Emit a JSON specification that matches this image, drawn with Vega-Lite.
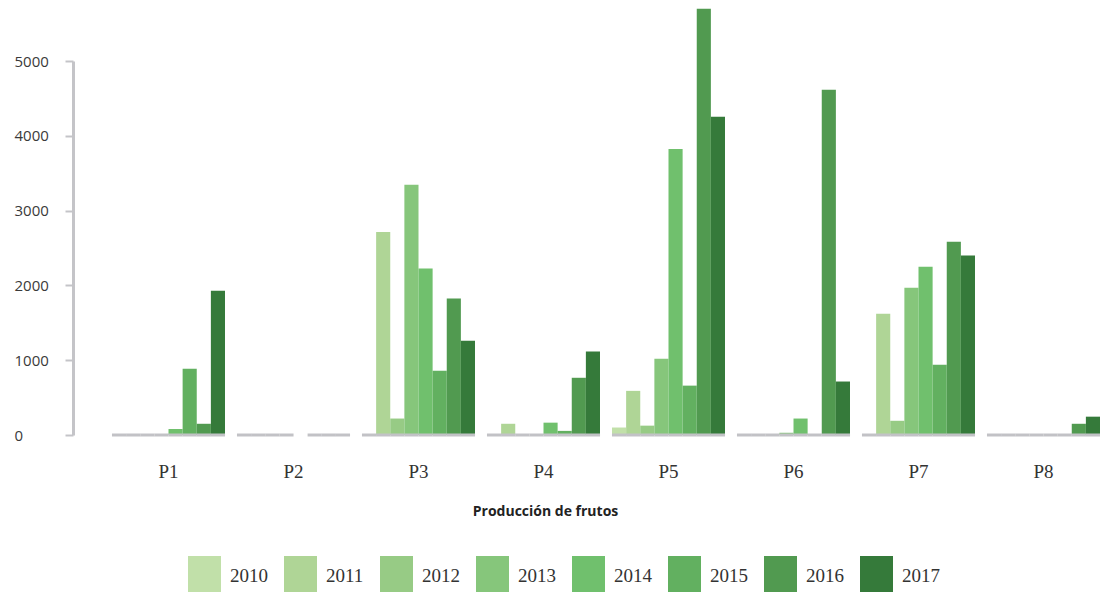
{
  "$schema": "https://vega.github.io/schema/vega-lite/v6.json",
  "width": 1027,
  "height": 374,
  "autosize": {"type": "none"},
  "padding": {"left": 73, "top": 61, "right": 0, "bottom": 157},
  "background": "#ffffff",
  "config": {"view": {"stroke": null}},
  "data": {
    "values": [
      {"parcela": "P1", "anio": "2010", "v": 0},
      {"parcela": "P1", "anio": "2011", "v": 0},
      {"parcela": "P1", "anio": "2012", "v": 0},
      {"parcela": "P1", "anio": "2013", "v": 0},
      {"parcela": "P1", "anio": "2014", "v": 80},
      {"parcela": "P1", "anio": "2015", "v": 885},
      {"parcela": "P1", "anio": "2016", "v": 150},
      {"parcela": "P1", "anio": "2017", "v": 1930},
      {"parcela": "P2", "anio": "2010", "v": 0},
      {"parcela": "P2", "anio": "2011", "v": 0},
      {"parcela": "P2", "anio": "2012", "v": 0},
      {"parcela": "P2", "anio": "2013", "v": 0},
      {"parcela": "P2", "anio": "2014", "v": null},
      {"parcela": "P2", "anio": "2015", "v": 0},
      {"parcela": "P2", "anio": "2016", "v": 0},
      {"parcela": "P2", "anio": "2017", "v": 0},
      {"parcela": "P3", "anio": "2010", "v": 0},
      {"parcela": "P3", "anio": "2011", "v": 2715},
      {"parcela": "P3", "anio": "2012", "v": 220},
      {"parcela": "P3", "anio": "2013", "v": 3345},
      {"parcela": "P3", "anio": "2014", "v": 2225},
      {"parcela": "P3", "anio": "2015", "v": 860},
      {"parcela": "P3", "anio": "2016", "v": 1825},
      {"parcela": "P3", "anio": "2017", "v": 1260},
      {"parcela": "P4", "anio": "2010", "v": 0},
      {"parcela": "P4", "anio": "2011", "v": 150},
      {"parcela": "P4", "anio": "2012", "v": 0},
      {"parcela": "P4", "anio": "2013", "v": 0},
      {"parcela": "P4", "anio": "2014", "v": 165},
      {"parcela": "P4", "anio": "2015", "v": 55},
      {"parcela": "P4", "anio": "2016", "v": 765},
      {"parcela": "P4", "anio": "2017", "v": 1115},
      {"parcela": "P5", "anio": "2010", "v": 100},
      {"parcela": "P5", "anio": "2011", "v": 590},
      {"parcela": "P5", "anio": "2012", "v": 125},
      {"parcela": "P5", "anio": "2013", "v": 1020},
      {"parcela": "P5", "anio": "2014", "v": 3825},
      {"parcela": "P5", "anio": "2015", "v": 660},
      {"parcela": "P5", "anio": "2016", "v": 5700},
      {"parcela": "P5", "anio": "2017", "v": 4255},
      {"parcela": "P6", "anio": "2010", "v": 0},
      {"parcela": "P6", "anio": "2011", "v": 0},
      {"parcela": "P6", "anio": "2012", "v": 0},
      {"parcela": "P6", "anio": "2013", "v": 30},
      {"parcela": "P6", "anio": "2014", "v": 220},
      {"parcela": "P6", "anio": "2015", "v": 0},
      {"parcela": "P6", "anio": "2016", "v": 4615},
      {"parcela": "P6", "anio": "2017", "v": 715},
      {"parcela": "P7", "anio": "2010", "v": 0},
      {"parcela": "P7", "anio": "2011", "v": 1620},
      {"parcela": "P7", "anio": "2012", "v": 190},
      {"parcela": "P7", "anio": "2013", "v": 1970},
      {"parcela": "P7", "anio": "2014", "v": 2250},
      {"parcela": "P7", "anio": "2015", "v": 940},
      {"parcela": "P7", "anio": "2016", "v": 2585},
      {"parcela": "P7", "anio": "2017", "v": 2400},
      {"parcela": "P8", "anio": "2010", "v": 0},
      {"parcela": "P8", "anio": "2011", "v": 0},
      {"parcela": "P8", "anio": "2012", "v": 0},
      {"parcela": "P8", "anio": "2013", "v": 0},
      {"parcela": "P8", "anio": "2014", "v": 0},
      {"parcela": "P8", "anio": "2015", "v": 0},
      {"parcela": "P8", "anio": "2016", "v": 150},
      {"parcela": "P8", "anio": "2017", "v": 245}
    ]
  },
  "encoding": {
    "x": {
      "field": "parcela",
      "type": "nominal",
      "title": "Producción de frutos",
      "scale": {"paddingInner": 0.096, "paddingOuter": 0.156, "align": 1},
      "axis": {
        "domain": false,
        "ticks": false,
        "tickSize": 0,
        "labelAngle": 0,
        "labelFont": "Liberation Serif",
        "labelFontSize": 19,
        "labelColor": "#333333",
        "labelPadding": 27,
        "titleFont": "Open Sans",
        "titleFontWeight": "bold",
        "titleFontSize": 14,
        "titleColor": "#222222",
        "titleX": 472,
        "titleY": 76,
        "titleBaseline": "middle",
        "titleAlign": "center"
      }
    },
    "xOffset": {"field": "anio", "type": "nominal", "scale": {"paddingInner": 0, "paddingOuter": 0}}
  },
  "layer": [
    {
      "mark": {"type": "bar"},
      "encoding": {
        "y": {
          "field": "v",
          "type": "quantitative",
          "scale": {"domain": [0, 5000], "nice": false},
          "axis": {
            "values": [0, 1000, 2000, 3000, 4000, 5000],
            "format": "d",
            "grid": false,
            "title": null,
            "domainColor": "#c4c4c8",
            "domainWidth": 3,
            "tickColor": "#c4c4c8",
            "tickWidth": 2,
            "tickSize": 8,
            "labelAlign": "left",
            "labelPadding": 51,
            "labelFont": "Open Sans",
            "labelFontSize": 15,
            "labelColor": "#3a3a3a"
          }
        },
        "color": {
          "field": "anio",
          "type": "nominal",
          "scale": {"range": ["#c1e0a9", "#afd596", "#97cb85", "#86c67b", "#70c06d", "#62b060", "#519a50", "#357a3a"]},
          "legend": {
            "orient": "none",
            "direction": "horizontal",
            "columns": 8,
            "legendX": 115,
            "legendY": 498,
            "title": null,
            "padding": 0,
            "symbolType": "M-1,-1.2H1V1.2H-1Z",
            "symbolSize": 1089,
            "symbolStrokeWidth": 0,
            "symbolOpacity": 1,
            "labelFont": "Liberation Serif",
            "labelFontSize": 19,
            "labelColor": "#333333",
            "labelOffset": 9,
            "columnPadding": 16
          }
        }
      }
    },
    {
      "transform": [{"filter": "datum.v != null"}],
      "mark": {"type": "tick", "orient": "horizontal", "thickness": 3, "size": 14.2, "color": "#c2c2c6", "opacity": 1},
      "encoding": {
        "y": {"datum": 0}
      }
    }
  ]
}
